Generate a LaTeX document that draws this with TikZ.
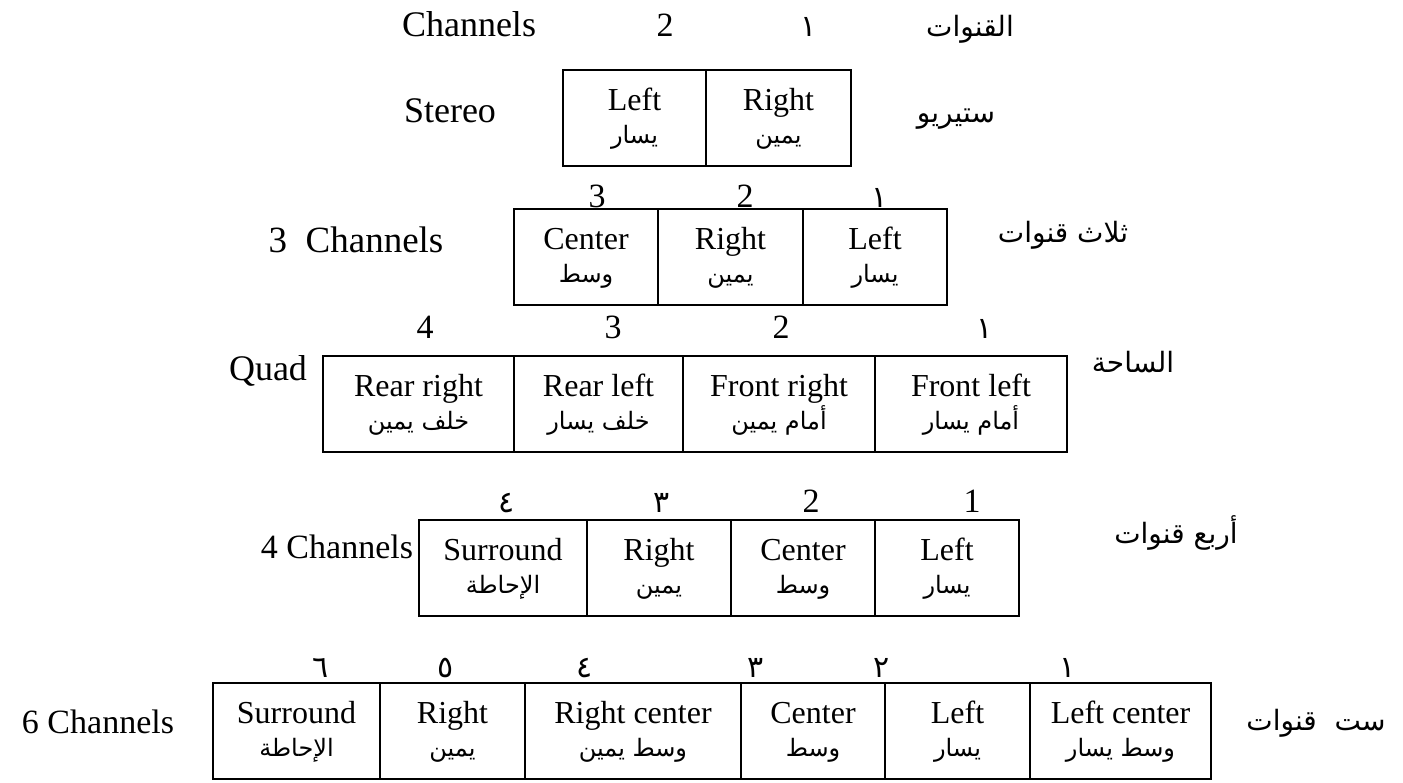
\documentclass[tikz,border=0pt]{standalone}
\usepackage{fontspec}
\setmainfont{Liberation Serif}
\newfontfamily\arabicfont[Script=Arabic]{DejaVu Sans}
\TeXXeTstate=1

\tikzset{
  en/.style={anchor=base, inner sep=0pt, font=\fontsize{32}{36}\selectfont},
  ar/.style={anchor=base, inner sep=0pt, font=\arabicfont\fontsize{24}{28}\selectfont},
  lbl/.style={anchor=base, inner sep=0pt, font=\fontsize{36}{40}\selectfont},
  arlbl/.style={anchor=base, inner sep=0pt, font=\arabicfont\fontsize{28}{32}\selectfont},
  num/.style={anchor=base, inner sep=0pt, font=\fontsize{34}{38}\selectfont},
  arnum/.style={anchor=base, inner sep=0pt, font=\arabicfont\fontsize{30}{34}\selectfont},
  cellbox/.style={draw, line width=1.6pt},
}

% one channel cell: id, left x, right x, top y, English name, Arabic name
\newcommand{\chcell}[6]{%
  \draw[cellbox] (#2,#4) rectangle (#3,#4+96);
  \node[en] (#1-en) at ({(#2+#3)/2},#4+40) {#5};
  \node[ar] (#1-ar) at ({(#2+#3)/2},#4+73) {#6};
}

\begin{document}
\begin{tikzpicture}[x=1pt,y=-1pt]
\useasboundingbox (0,0) rectangle (1403,782);

% header row
\node[lbl] (hdr-en) at (469,36) {Channels};
\node[num] (hdr-2) at (665,36) {2};
\node[arnum] (hdr-1) at (809,36) {١};
\node[arlbl] (hdr-ar) at (970,36) {\beginR القنوات\endR};

% stereo
\node[lbl] (st-en) at (450,122) {Stereo};
\node[arlbl] (st-ar) at (956,122) {\beginR ستيريو\endR};
\chcell{st1}{563}{706}{70}{Left}{\beginR يسار\endR}
\chcell{st2}{706}{851}{70}{Right}{\beginR يمين\endR}

% three channels
\node[lbl, font=\fontsize{37}{41}\selectfont] (tc-en) at (356,252) {3\ \ Channels};
\node[arlbl] (tc-ar) at (1063,242) {\beginR ثلاث قنوات\endR};
\node[num] (tc-n3) at (597,207) {3};
\node[num] (tc-n2) at (745,207) {2};
\node[arnum] (tc-n1) at (880,207) {١};
\chcell{tc1}{514}{658}{209}{Center}{\beginR وسط\endR}
\chcell{tc2}{658}{803}{209}{Right}{\beginR يمين\endR}
\chcell{tc3}{803}{947}{209}{Left}{\beginR يسار\endR}

% quad
\node[lbl] (qd-en) at (268,380) {Quad};
\node[arlbl] (qd-ar) at (1133,372) {\beginR الساحة\endR};
\node[num] (qd-n4) at (425,338) {4};
\node[num] (qd-n3) at (613,338) {3};
\node[num] (qd-n2) at (781,338) {2};
\node[arnum] (qd-n1) at (985,338) {١};
\chcell{qd1}{323}{514}{356}{Rear right}{\beginR خلف يمين\endR}
\chcell{qd2}{514}{683}{356}{Rear left}{\beginR خلف يسار\endR}
\chcell{qd3}{683}{875}{356}{Front right}{\beginR أمام يمين\endR}
\chcell{qd4}{875}{1067}{356}{Front left}{\beginR أمام يسار\endR}

% four channels
\node[lbl, font=\fontsize{34}{38}\selectfont] (fc-en) at (337,558) {4 Channels};
\node[arlbl] (fc-ar) at (1176,543) {\beginR أربع قنوات\endR};
\node[arnum] (fc-n4) at (507,512) {٤};
\node[arnum] (fc-n3) at (662,512) {٣};
\node[num] (fc-n2) at (811,512) {2};
\node[num] (fc-n1) at (972,512) {1};
\chcell{fc1}{419}{587}{520}{Surround}{\beginR الإحاطة\endR}
\chcell{fc2}{587}{731}{520}{Right}{\beginR يمين\endR}
\chcell{fc3}{731}{875}{520}{Center}{\beginR وسط\endR}
\chcell{fc4}{875}{1019}{520}{Left}{\beginR يسار\endR}

% six channels
\node[lbl, font=\fontsize{34}{38}\selectfont] (sc-en) at (98,733) {6 Channels};
\node[arlbl] (sc-ar) at (1316,730) {\beginR ست\ \ قنوات\endR};
\node[arnum] (sc-n6) at (321,677) {٦};
\node[arnum] (sc-n5) at (446,677) {٥};
\node[arnum] (sc-n4) at (585,677) {٤};
\node[arnum] (sc-n3) at (756,677) {٣};
\node[arnum] (sc-n2) at (882,677) {٢};
\node[arnum] (sc-n1) at (1068,677) {١};
\chcell{sc1}{213}{380}{683}{Surround}{\beginR الإحاطة\endR}
\chcell{sc2}{380}{525}{683}{Right}{\beginR يمين\endR}
\chcell{sc3}{525}{741}{683}{Right center}{\beginR وسط يمين\endR}
\chcell{sc4}{741}{885}{683}{Center}{\beginR وسط\endR}
\chcell{sc5}{885}{1030}{683}{Left}{\beginR يسار\endR}
\chcell{sc6}{1030}{1211}{683}{Left center}{\beginR وسط يسار\endR}
\end{tikzpicture}
\end{document}
